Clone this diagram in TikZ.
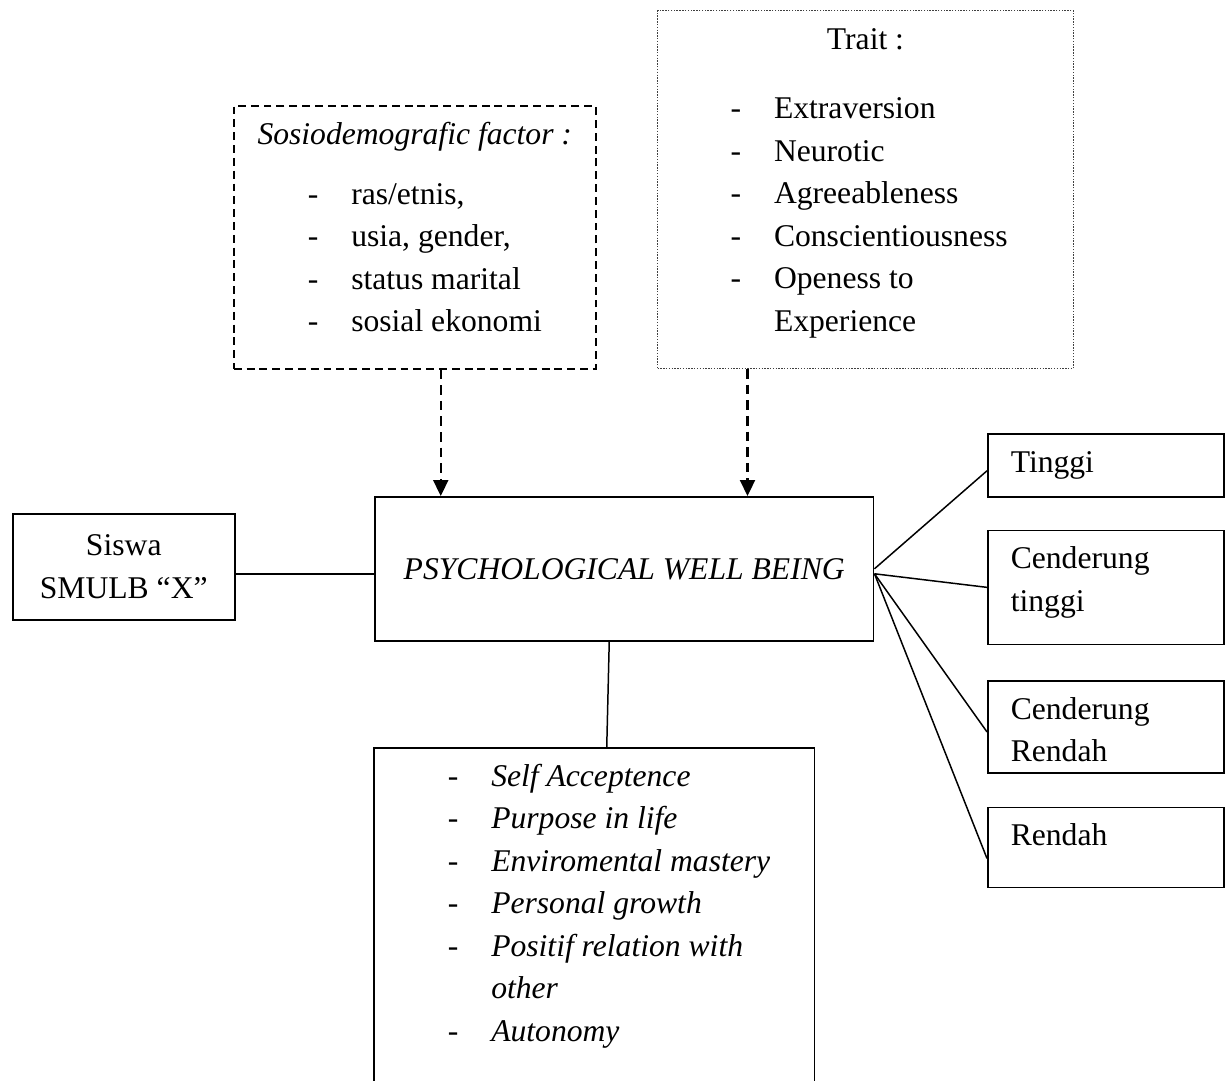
\documentclass[tikz,border=0pt]{standalone}
\usepackage{fontspec}
\setmainfont{Liberation Serif}
\usetikzlibrary{positioning}
\usetikzlibrary{arrows.meta}
\newcommand{\dashitem}[1]{\makebox[0.87cm][l]{-}#1}
\newcommand{\boxtext}[3]{\parbox[t][#2][t]{#1}{\rule{0pt}{0.77cm}#3}}
\tikzset{
        box_base/.style={inner sep=0pt, anchor=north west, line width=0.9pt},
        % Solid boxes
        box_solid/.style={box_base, draw=black},
        % Dashed box
        box_dashed/.style={box_base, draw=black, dash pattern=on 4.5pt off 2.8pt},
        % Dotted box
        box_dotted/.style={box_base, draw=black!75, line width=0.6pt, dash pattern=on 0.8pt off 0.8pt},
        % Plain connectors
        link_line/.style={draw=black, line width=0.85pt},
        % Dashed arrows
        link_arrow/.style={draw=black, line width=1.25pt, dash pattern=on 5.5pt off 3.4pt,
            -{Triangle[length=0.32cm, width=0.3cm]}}
}
\begin{document}
\begin{tikzpicture}[
            x=0.02cm, y=-0.02cm,
            font=\fontsize{18pt}{24.2pt}\selectfont
        ]
            \useasboundingbox (0,0) rectangle (1232,1080);
            \clip (0,0) rectangle (1232,1080);
            % Factors
            \node[box_dashed] (sosio) at (233,105) {\boxtext{7.24cm}{5.26cm}{%
                \makebox[\linewidth]{\textit{Sosiodemografic factor :}}\\[0.346cm]
                \hspace*{1.48cm}\dashitem{ras/etnis,}\\
                \hspace*{1.48cm}\dashitem{usia, gender,}\\
                \hspace*{1.48cm}\dashitem{status marital}\\
                \hspace*{1.48cm}\dashitem{sosial ekonomi}}};
            \node[box_dotted] (trait) at (657,10) {\boxtext{8.32cm}{7.16cm}{%
                \makebox[\linewidth]{Trait :}\\[0.546cm]
                \hspace*{1.46cm}\dashitem{Extraversion}\\
                \hspace*{1.46cm}\dashitem{Neurotic}\\
                \hspace*{1.46cm}\dashitem{Agreeableness}\\
                \hspace*{1.46cm}\dashitem{Conscientiousness}\\
                \hspace*{1.46cm}\dashitem{Openess to}\\
                \hspace*{2.33cm}Experience}};
            % Main boxes
            \node[box_solid, minimum width=4.44cm, minimum height=2.12cm, align=center]
                (siswa) at (12,513) {Siswa\\SMULB “X”};
            \node[box_solid, minimum width=9.98cm, minimum height=2.88cm]
                (pwb) at (374,496) {\textit{PSYCHOLOGICAL WELL BEING}};
            \node[box_solid] (dimensi) at (373,747) {\boxtext{8.82cm}{8cm}{%
                \hspace*{1.48cm}\dashitem{\textit{Self Acceptence}}\\
                \hspace*{1.48cm}\dashitem{\textit{Purpose in life}}\\
                \hspace*{1.48cm}\dashitem{\textit{Enviromental mastery}}\\
                \hspace*{1.48cm}\dashitem{\textit{Personal growth}}\\
                \hspace*{1.48cm}\dashitem{\textit{Positif relation with}}\\
                \hspace*{2.35cm}\textit{other}\\
                \hspace*{1.48cm}\dashitem{\textit{Autonomy}}}};
            % Categories
            \node[box_solid] (tinggi) at (987,433)
                {\boxtext{4.72cm}{1.26cm}{\hspace*{0.46cm}Tinggi}};
            \node[box_solid, below=0.64cm of tinggi.south west, anchor=north west] (cend_tinggi)
                {\boxtext{4.72cm}{2.28cm}{\hspace*{0.46cm}Cenderung\\\hspace*{0.46cm}tinggi}};
            \node[box_solid, below=0.7cm of cend_tinggi.south west, anchor=north west] (cend_rendah)
                {\boxtext{4.72cm}{1.84cm}{\hspace*{0.46cm}Cenderung\\\hspace*{0.46cm}Rendah}};
            \node[box_solid, below=0.66cm of cend_rendah.south west, anchor=north west] (rendah)
                {\boxtext{4.72cm}{1.6cm}{\hspace*{0.46cm}Rendah}};
            % Connectors
            \draw[link_arrow] ([xshift=0.52cm]sosio.south) -- ([xshift=0.52cm]sosio.south |- pwb.north);
            \draw[link_arrow] ([xshift=-2.36cm]trait.south) -- ([xshift=-2.36cm]trait.south |- pwb.north);
            \draw[link_line] ([yshift=-0.14cm]siswa.east) -- ([yshift=-0.14cm]siswa.east -| pwb.west);
            \draw[link_line] ([xshift=-0.3cm]pwb.south) -- ([xshift=0.25cm]dimensi.north);
            \draw[link_line] (pwb.east) -- ([yshift=-0.11cm]tinggi.west);
            \draw[link_line] ([yshift=-0.1cm]pwb.east) -- (cend_tinggi.west);
            \draw[link_line] ([yshift=-0.1cm]pwb.east) -- ([yshift=-0.1cm]cend_rendah.west);
            \draw[link_line] ([yshift=-0.1cm]pwb.east) -- ([yshift=-0.22cm]rendah.west);
        \end{tikzpicture}
\end{document}
